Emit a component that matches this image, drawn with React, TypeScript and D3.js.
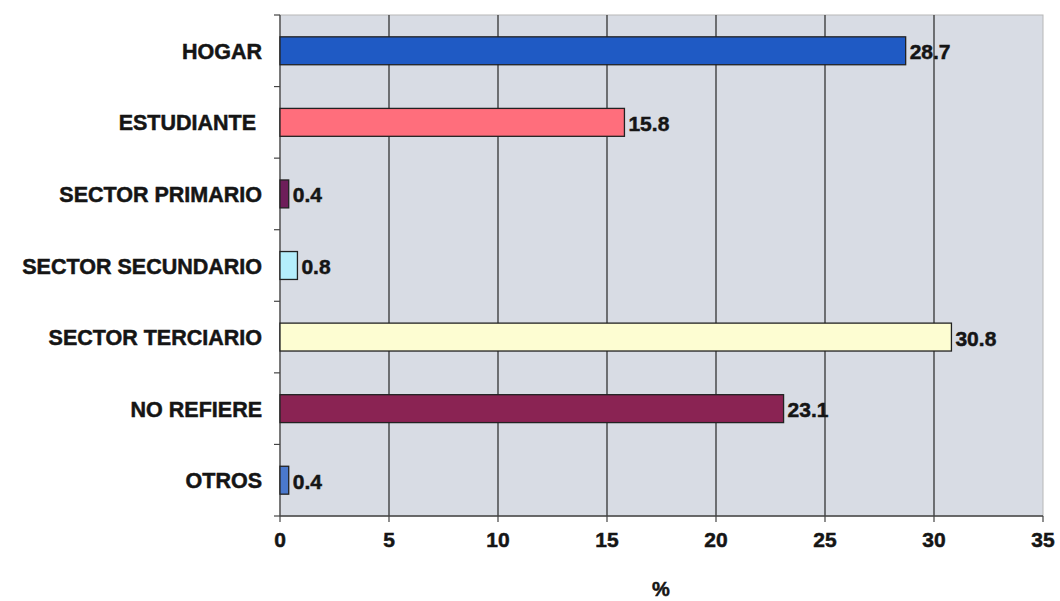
import React from "react";
import * as d3 from "d3";

const categories = ["HOGAR", "ESTUDIANTE ", "SECTOR PRIMARIO", "SECTOR SECUNDARIO", "SECTOR TERCIARIO", "NO REFIERE", "OTROS"];
const values = [28.7, 15.8, 0.4, 0.8, 30.8, 23.1, 0.4];
const colors = ["#1f5ac4", "#ff6e7c", "#6e1e5a", "#b4eefc", "#fdfdd2", "#8a2353", "#4a78cc"];
const xTicks = [0, 5, 10, 15, 20, 25, 30, 35];
const xTitle = "%";

export default function App() {
  const W = 1060, H = 601;
  const left = 280, right = 1043, top = 15, bottom = 516;
  const x = d3.scaleLinear().domain([0, 35]).range([left, right]);
  const y = d3.scaleBand<string>().domain(categories).range([top, bottom]).paddingInner(0.61).paddingOuter(0.305);
  const step = (bottom - top) / categories.length;
  const font = "Arial, 'Liberation Sans', sans-serif";
  const txt = { fontFamily: font, fontWeight: "bold" as const, fill: "#151515", stroke: "#151515", strokeWidth: 0.5 };
  return (
    <svg width={W} height={H} style={{ position: "absolute", left: 0, top: 0, background: "#fff" }}>
      <rect x={left} y={top} width={right - left} height={bottom - top} fill="#d8dce4" stroke="#b8b8b8" strokeWidth={1} />
      {xTicks.slice(1, -1).map(t => (
        <line key={t} x1={x(t)} x2={x(t)} y1={top} y2={bottom} stroke="#333" strokeWidth={1.3} />
      ))}
      <line x1={left} x2={left} y1={top} y2={bottom} stroke="#444" strokeWidth={1.3} />
      <line x1={left} x2={right} y1={bottom} y2={bottom} stroke="#444" strokeWidth={1.3} />
      {d3.range(categories.length + 1).map(i => (
        <line key={i} x1={left - 6} x2={left} y1={top + i * step} y2={top + i * step} stroke="#444" strokeWidth={1.2} />
      ))}
      {xTicks.map(t => (
        <g key={t}>
          <line x1={x(t)} x2={x(t)} y1={bottom} y2={bottom + 6} stroke="#444" strokeWidth={1.2} />
          <text x={x(t)} y={539} dominantBaseline="central" textAnchor="middle" fontSize={21} {...txt}>{t}</text>
        </g>
      ))}
      <text x={661} y={589} dominantBaseline="central" textAnchor="middle" fontSize={20} {...txt}>{xTitle}</text>
      {categories.map((c, i) => {
        const yy = y(c)!;
        const bw = y.bandwidth();
        return (
          <g key={c}>
            <rect x={x(0)} y={yy} width={x(values[i]) - x(0)} height={bw} fill={colors[i]} stroke="#222" strokeWidth={1.3} />
            <text x={x(values[i]) + 4} y={yy + bw / 2 + 1} dominantBaseline="central" fontSize={21} {...txt}>{values[i]}</text>
            <text x={262} y={yy + bw / 2 + 1} dominantBaseline="central" textAnchor="end" fontSize={21.5} style={{ whiteSpace: "pre" }} {...txt}>{c}</text>
          </g>
        );
      })}
    </svg>
  );
}
